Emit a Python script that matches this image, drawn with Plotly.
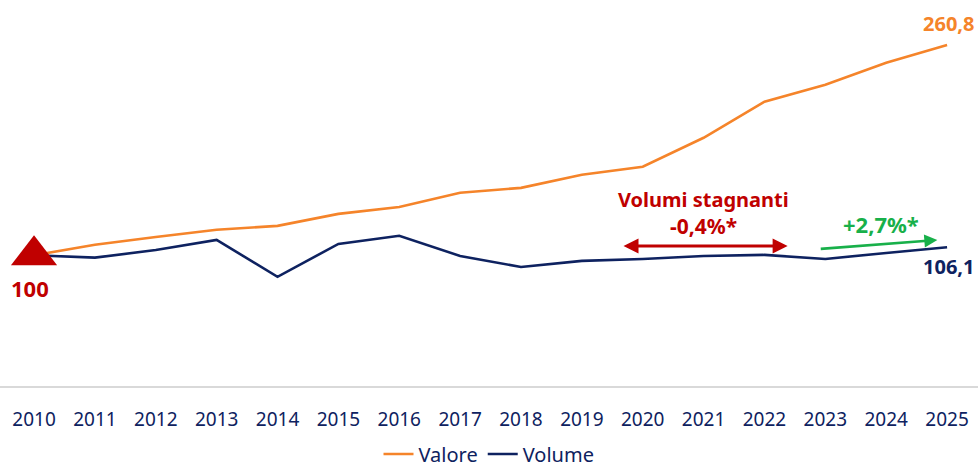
import plotly.graph_objects as go

years = list(range(2010, 2026))
valore = [100, 108, 114, 119.5, 122.5, 131.7, 137, 147.8, 151.6, 161.6, 167.7, 189.9, 217.5, 230.5, 247.3, 260.8]
volume = [100, 98.2, 104, 111.8, 83.5, 108.7, 114.9, 99.5, 91, 95.7, 97.2, 99.5, 100.3, 97.2, 101.8, 106.1]

ORANGE = "#F5842A"
NAVY = "#0E2260"
RED = "#C00000"
GREEN = "#18B04A"
FONT = "Noto Sans"

fig = go.Figure()
fig.add_trace(go.Scatter(x=years, y=valore, mode="lines", name="Valore",
                         line=dict(color=ORANGE, width=2.6)))
fig.add_trace(go.Scatter(x=years, y=volume, mode="lines", name="Volume",
                         line=dict(color=NAVY, width=2.6)))
fig.add_trace(go.Scatter(x=[years[0]], y=[volume[0]], mode="markers", showlegend=False,
                         marker=dict(symbol="triangle-up", size=40, color=RED)))

# value labels
fig.add_annotation(x=2025.47, y=277, text="<b>260,8</b>", showarrow=False,
                   xanchor="right", font=dict(color=ORANGE, size=20, family=FONT))
fig.add_annotation(x=2025.47, y=91.5, text="<b>106,1</b>", showarrow=False,
                   xanchor="right", font=dict(color=NAVY, size=20, family=FONT))
fig.add_annotation(x=years[0] - 0.06, y=75, text="<b>100</b>", showarrow=False,
                   font=dict(color=RED, size=22, family=FONT))

# stagnation annotation
fig.add_annotation(x=2021.0, y=142.3, text="<b>Volumi stagnanti</b>", showarrow=False,
                   font=dict(color=RED, size=20, family=FONT))
fig.add_annotation(x=2021.0, y=122.4, text="<b>-0,4%*</b>", showarrow=False,
                   font=dict(color=RED, size=21, family=FONT))
fig.add_annotation(x=2022.38, y=107.1, ax=2019.66, ay=107.1, axref="x", ayref="y",
                   text="", showarrow=True, arrowhead=2, arrowside="end+start",
                   arrowsize=1, arrowwidth=3, arrowcolor=RED)

# growth annotation
fig.add_annotation(x=2023.92, y=124, text="<b>+2,7%*</b>", showarrow=False,
                   font=dict(color=GREEN, size=22, family=FONT))
fig.add_annotation(x=2024.84, y=111.7, ax=2022.9, ay=104.8, axref="x", ayref="y",
                   text="", showarrow=True, arrowhead=2, arrowsize=1, arrowwidth=2.6,
                   arrowcolor=GREEN)

fig.update_layout(
    width=978, height=465,
    margin=dict(l=0, r=0, t=0, b=79, autoexpand=False),
    plot_bgcolor="white", paper_bgcolor="white",
    font=dict(family=FONT, color=NAVY, size=19),
    showlegend=True,
    legend=dict(orientation="h", x=0.5, xanchor="center", y=-0.176, yanchor="middle",
                font=dict(size=20, color=NAVY), itemwidth=30, tracegroupgap=0),
    xaxis=dict(range=[2009.441, 2025.508], tickmode="array", tickvals=years,
               ticktext=[str(y) for y in years], showgrid=False, zeroline=False,
               showline=True, linecolor="#D9D9D9", linewidth=1.5,
               ticks="outside", ticklen=15, tickcolor="rgba(0,0,0,0)",
               tickfont=dict(size=19, color=NAVY, family=FONT), automargin=False),
    yaxis=dict(range=[0, 295.3], visible=False, showgrid=False, zeroline=False),
)

fig.write_html("out.html", config={"displayModeBar": False},
               post_script="document.body.style.margin='0';document.body.style.overflow='hidden';")
